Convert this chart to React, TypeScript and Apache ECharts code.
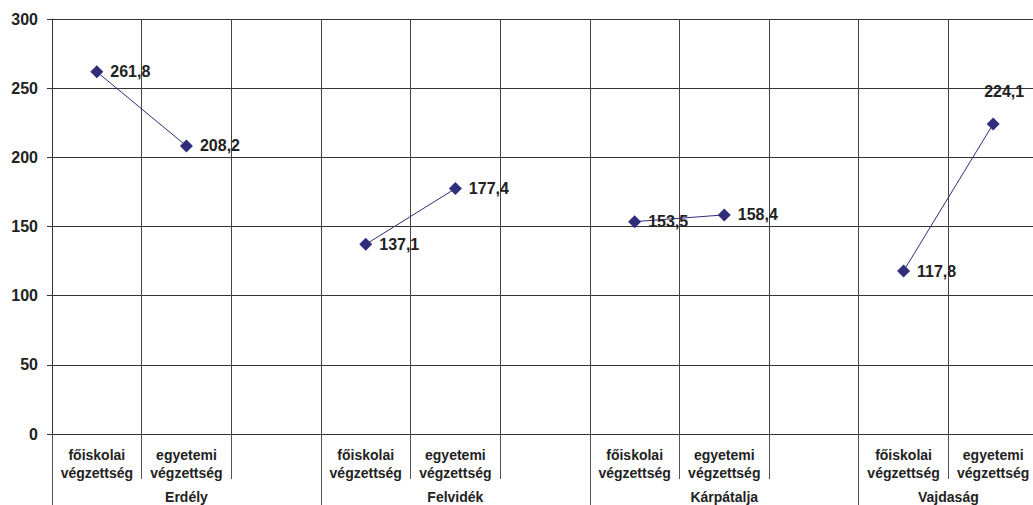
import React, { useEffect, useRef } from "react";
import * as echarts from "echarts";

const categories = [
  "főiskolai\nvégzettség", "egyetemi\nvégzettség", "",
  "főiskolai\nvégzettség", "egyetemi\nvégzettség", "",
  "főiskolai\nvégzettség", "egyetemi\nvégzettség", "",
  "főiskolai\nvégzettség", "egyetemi\nvégzettség",
];
const values: (number | null)[] = [261.8, 208.2, null, 137.1, 177.4, null, 153.5, 158.4, null, 117.8, 224.1];
const labelPositions = ["right", "right", "right", "right", "right", "right", "right", "right", "right", "right", "top"];
const groups = ["Erdély", "Felvidék", "Kárpátalja", "Vajdaság"];
const groupBoundaries = [0, 3, 6, 9];
const groupCenters = [1.5, 4.5, 7.5, 10];
const yTicks = [0, 50, 100, 150, 200, 250, 300];

const FONT = "'Liberation Sans', Arial, sans-serif";

export default function App() {
  const ref = useRef<HTMLDivElement>(null);
  useEffect(() => {
    document.body.style.margin = "0";
    const chart = echarts.init(ref.current!, null, { renderer: "svg" });
    chart.setOption({
      animation: false,
      grid: { left: 52, top: 19, bottom: 71, width: 986, containLabel: false, outerBoundsMode: "none" },
      xAxis: [
        {
          type: "category",
          data: categories,
          boundaryGap: true,
          axisLine: { show: true, lineStyle: { color: "#333", width: 1 } },
          axisTick: { show: true, interval: 0, length: 45, lineStyle: { color: "#555" } },
          axisLabel: {
            interval: 0,
            margin: 12,
            color: "#222",
            fontFamily: FONT,
            fontWeight: "bold",
            fontSize: 14,
            lineHeight: 18,
          },
          splitLine: { show: true, interval: 0, lineStyle: { color: "#444", width: 1 } },
        },
        {
          type: "value",
          min: 0,
          max: 11,
          position: "bottom",
          axisLine: { show: false },
          axisTick: { show: true, customValues: groupBoundaries, length: 72, lineStyle: { color: "#555" } },
          axisLabel: {
            customValues: groupCenters,
            margin: 56,
            color: "#222",
            fontFamily: FONT,
            fontWeight: "bold",
            fontSize: 14,
            formatter: (v: number) => {
              const i = groupCenters.indexOf(v);
              return i >= 0 ? groups[i] : "";
            },
          },
          splitLine: { show: false },
        },
      ],
      yAxis: {
        type: "value",
        min: 0,
        max: 300,
        interval: 50,
        axisLine: { show: true, lineStyle: { color: "#333" } },
        axisTick: { show: true, length: 5, lineStyle: { color: "#333" } },
        axisLabel: {
          margin: 14,
          color: "#222",
          fontFamily: FONT,
          fontWeight: "bold",
          fontSize: 16,
          formatter: (v: number) => (yTicks.includes(v) ? String(v) : ""),
        },
        splitLine: { show: true, lineStyle: { color: "#333", width: 1 } },
      },
      series: [
        {
          type: "line",
          xAxisIndex: 0,
          connectNulls: false,
          symbol: "diamond",
          symbolSize: 13,
          itemStyle: { color: "#302d7a" },
          lineStyle: { color: "#302d7a", width: 1 },
          data: values.map((v, i) =>
            v === null
              ? null
              : {
                  value: v,
                  label: {
                    show: true,
                    position: labelPositions[i],
                    distance: labelPositions[i] === "top" ? 18 : 7,
                    offset: labelPositions[i] === "top" ? [11, 0] : [0, 0],
                    formatter: () => v.toFixed(1).replace(".", ","),
                    color: "#222",
                    fontFamily: FONT,
                    fontWeight: "bold",
                    fontSize: 16,
                  },
                }
          ),
        },
      ],
    });
    return () => chart.dispose();
  }, []);
  return <div ref={ref} style={{ width: 1033, height: 505 }} />;
}
